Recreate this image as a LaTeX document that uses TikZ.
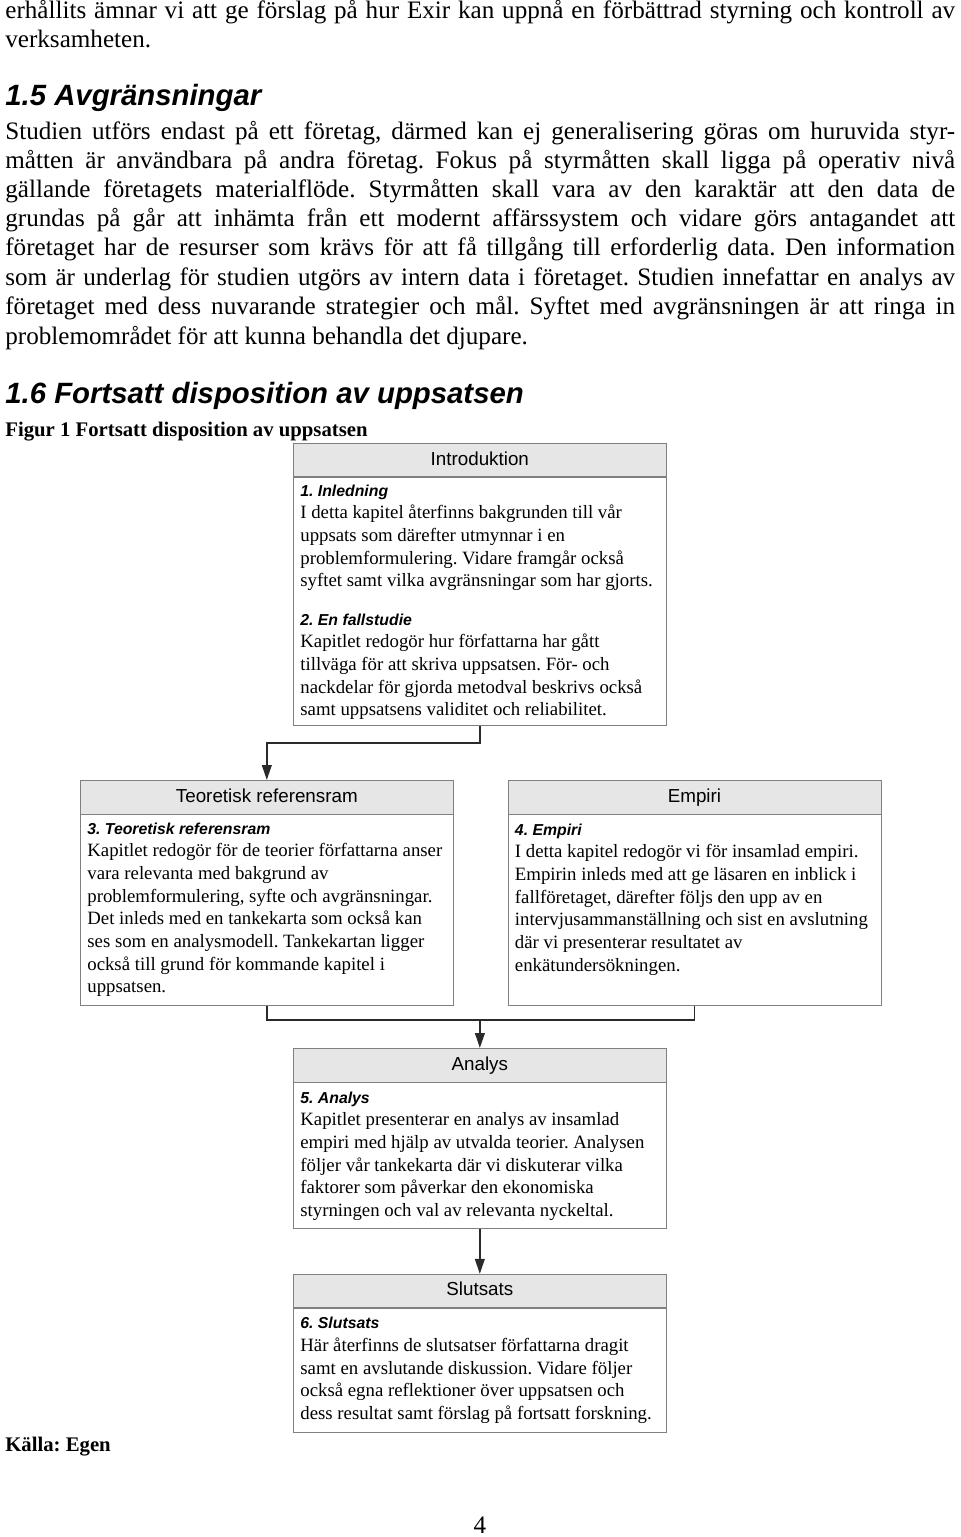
\documentclass[tikz,border=0pt]{standalone}
\usepackage{fontspec}
\setmainfont{Liberation Serif}
\setsansfont{Liberation Sans}
\usetikzlibrary{positioning, arrows.meta}

\definecolor{boxline}{HTML}{808080}
\definecolor{hdrfill}{HTML}{E6E6E6}
\definecolor{arrline}{HTML}{2A2A2A}

\newcommand{\subhd}[1]{{\sffamily\bfseries\itshape\fontsize{9}{12.9}\selectfont #1}}

\begin{document}
\frenchspacing
\begin{tikzpicture}[
    x=0.02cm, y=0.02cm,
    para/.style={anchor=base west, inner sep=0pt, font=\fontsize{14.3}{17}\selectfont},
    sechd/.style={anchor=base west, inner sep=0pt, font=\sffamily\bfseries\itshape\fontsize{16.7}{20}\selectfont},
    figcap/.style={anchor=base west, inner sep=0pt, font=\bfseries\fontsize{11.8}{14}\selectfont},
    hdr/.style={draw=boxline, fill=hdrfill, minimum width=7.46cm, minimum height=0.67cm, inner sep=0pt,
        text height=7.8pt, text depth=2.2pt, font=\sffamily\fontsize{10.7}{13}\selectfont},
    bodybox/.style={draw=boxline, fill=white, minimum width=7.46cm, inner sep=0pt},
    boxtxt/.style={anchor=north west, inner sep=0pt, align=left, font=\fontsize{10.7}{12.9}\selectfont},
    arr/.style={-{Triangle[length=8.5pt, width=5.5pt]}, draw=arrline, line width=1pt},
    conn/.style={draw=arrline, line width=1pt},
]
\useasboundingbox (0,0) rectangle (960,-1537);

% Text above the figure
\node[para] (l1) at (5,-19) {\makebox[19cm][s]{erhållits ämnar vi att ge förslag på hur Exir kan uppnå en förbättrad styrning och kontroll av}};
\node[para] (l2) at (5,-48) {verksamheten.};

\node[sechd] (sec15) at (5,-106) {1.5 Avgränsningar};

\node[para] (p1) at (5,-140) {\makebox[19cm][s]{Studien utförs endast på ett företag, därmed kan ej generalisering göras om huruvida styr-}};
\node[para] (p2) at (5,-169) {\makebox[19cm][s]{måtten är användbara på andra företag. Fokus på styrmåtten skall ligga på operativ nivå}};
\node[para] (p3) at (5,-198) {\makebox[19cm][s]{gällande företagets materialflöde. Styrmåtten skall vara av den karaktär att den data de}};
\node[para] (p4) at (5,-227) {\makebox[19cm][s]{grundas på går att inhämta från ett modernt affärssystem och vidare görs antagandet att}};
\node[para] (p5) at (5,-256) {\makebox[19cm][s]{företaget har de resurser som krävs för att få tillgång till erforderlig data. Den information}};
\node[para] (p6) at (5,-286) {\makebox[19cm][s]{som är underlag för studien utgörs av intern data i företaget. Studien innefattar en analys av}};
\node[para] (p7) at (5,-315) {\makebox[19cm][s]{företaget med dess nuvarande strategier och mål. Syftet med avgränsningen är att ringa in}};
\node[para] (p8) at (5,-344) {problemområdet för att kunna behandla det djupare.};

\node[sechd] (sec16) at (5,-403) {1.6 Fortsatt disposition av uppsatsen};
\node[figcap] (fig) at (5,-436) {Figur 1 Fortsatt disposition av uppsatsen};

% Introduktion
\node[hdr, anchor=north west] (intro-h) at (293,-443) {Introduktion};
\node[bodybox, below=0pt of intro-h, minimum height=4.96cm] (intro-b) {};
\node[boxtxt] (intro-t) at ([shift={(7,-7)}]intro-h.south west) {\subhd{1. Inledning}\\
I detta kapitel återfinns bakgrunden till vår\\
uppsats som därefter utmynnar i en\\
problemformulering. Vidare framgår också\\
syftet samt vilka avgränsningar som har gjorts.\\[9pt]
\subhd{2. En fallstudie}\\
Kapitlet redogör hur författarna har gått\\
tillväga för att skriva uppsatsen. För- och\\
nackdelar för gjorda metodval beskrivs också\\
samt uppsatsens validitet och reliabilitet.};

% Teoretisk referensram and Empiri
\node[hdr, anchor=north west] (teo-h) at (80,-780) {Teoretisk referensram};
\node[bodybox, below=0pt of teo-h, minimum height=3.82cm] (teo-b) {};
\node[boxtxt] (teo-t) at ([shift={(7,-8)}]teo-h.south west) {\subhd{3. Teoretisk referensram}\\
Kapitlet redogör för de teorier författarna anser\\
vara relevanta med bakgrund av\\
problemformulering, syfte och avgränsningar.\\
Det inleds med en tankekarta som också kan\\
ses som en analysmodell. Tankekartan ligger\\
också till grund för kommande kapitel i\\
uppsatsen.};

\node[hdr, right=1.08cm of teo-h] (emp-h) {Empiri};
\node[bodybox, below=0pt of emp-h, minimum height=3.82cm] (emp-b) {};
\node[boxtxt] (emp-t) at ([shift={(7,-9)}]emp-h.south west) {\subhd{4. Empiri}\\
I detta kapitel redogör vi för insamlad empiri.\\
Empirin inleds med att ge läsaren en inblick i\\
fallföretaget, därefter följs den upp av en\\
intervjusammanställning och sist en avslutning\\
där vi presenterar resultatet av\\
enkätundersökningen.};

% Analys
\node[hdr, anchor=north west] (ana-h) at (293,-1048) {Analys};
\node[bodybox, below=0pt of ana-h, minimum height=2.92cm] (ana-b) {};
\node[boxtxt] (ana-t) at ([shift={(7,-9)}]ana-h.south west) {\subhd{5. Analys}\\
Kapitlet presenterar en analys av insamlad\\
empiri med hjälp av utvalda teorier. Analysen\\
följer vår tankekarta där vi diskuterar vilka\\
faktorer som påverkar den ekonomiska\\
styrningen och val av relevanta nyckeltal.};

% Slutsats
\node[hdr, below=0.9cm of ana-b] (slut-h) {Slutsats};
\node[bodybox, below=0pt of slut-h, minimum height=2.48cm] (slut-b) {};
\node[boxtxt] (slut-t) at ([shift={(7,-9)}]slut-h.south west) {\subhd{6. Slutsats}\\
Här återfinns de slutsatser författarna dragit\\
samt en avslutande diskussion. Vidare följer\\
också egna reflektioner över uppsatsen och\\
dess resultat samt förslag på fortsatt forskning.};

% Connectors
\draw[arr] (intro-b.south) -- ++(0,-17) -| (teo-h.north);
\coordinate (merge) at (480,-1020);
\draw[conn] (teo-b.south) |- (merge) -| (emp-b.south);
\draw[arr] (merge) -- (ana-h.north);
\draw[arr] (ana-b.south) -- (slut-h.north);

% Below the figure
\node[figcap] (src) at (5,-1451) {Källa: Egen};
\node[para, anchor=base] (pgno) at (480,-1533) {4};

\end{tikzpicture}
\end{document}
